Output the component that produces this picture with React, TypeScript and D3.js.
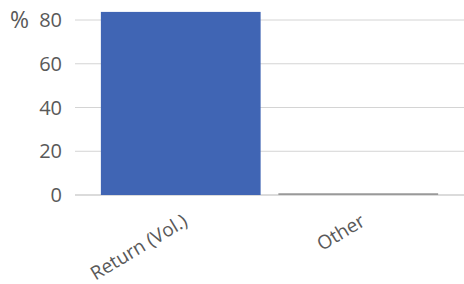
import React from 'react'
import * as d3 from 'd3'

const categories = ['Return (Vol.)', 'Other']
const values = [83.7, 0.8]
const barColors = ['#4065b4', '#999999']
const yTicks = [0, 20, 40, 60, 80]

const W = 464
const H = 284

export default function App() {
  const x = d3.scaleBand<string>()
    .domain(categories)
    .range([92, 447])
    .paddingInner(0.1)
    .paddingOuter(0.05)
  const y = d3.scaleLinear()
    .domain([0, 80])
    .range([195, 20])

  const font = '"Open Sans", "Noto Sans", sans-serif'

  return (
    <svg width={W} height={H} style={{ position: 'absolute', left: 0, top: 0 }}>
      {yTicks.map((t) => (
        <g key={t}>
          <line x1={75} x2={W} y1={y(t)} y2={y(t)} stroke={t === 0 ? '#cfcfcf' : '#d4d4d4'} strokeWidth={t === 0 ? 1.5 : 1} />
          <text x={62} y={y(t)} dy="0.36em" textAnchor="end" fontFamily={font} fontSize={20} fill="#595959">{t}</text>
        </g>
      ))}
      <text x={10} y={y(80)} dy="0.36em" fontFamily={font} fontSize={23} fill="#595959">%</text>
      {categories.map((c, i) => (
        <rect
          key={c}
          x={x(c)} y={y(values[i])}
          width={x.bandwidth()} height={y(0) - y(values[i])}
          fill={barColors[i]}
        />
      ))}
      {categories.map((c) => {
        const cx = (x(c) as number) + x.bandwidth() / 2
        return (
          <text key={c} transform={`translate(${cx + 1},${213}) rotate(-31)`} textAnchor="end" dy="0.72em"
            fontFamily={font} fontSize={19} fill="#595959">{c}</text>
        )
      })}
    </svg>
  )
}
